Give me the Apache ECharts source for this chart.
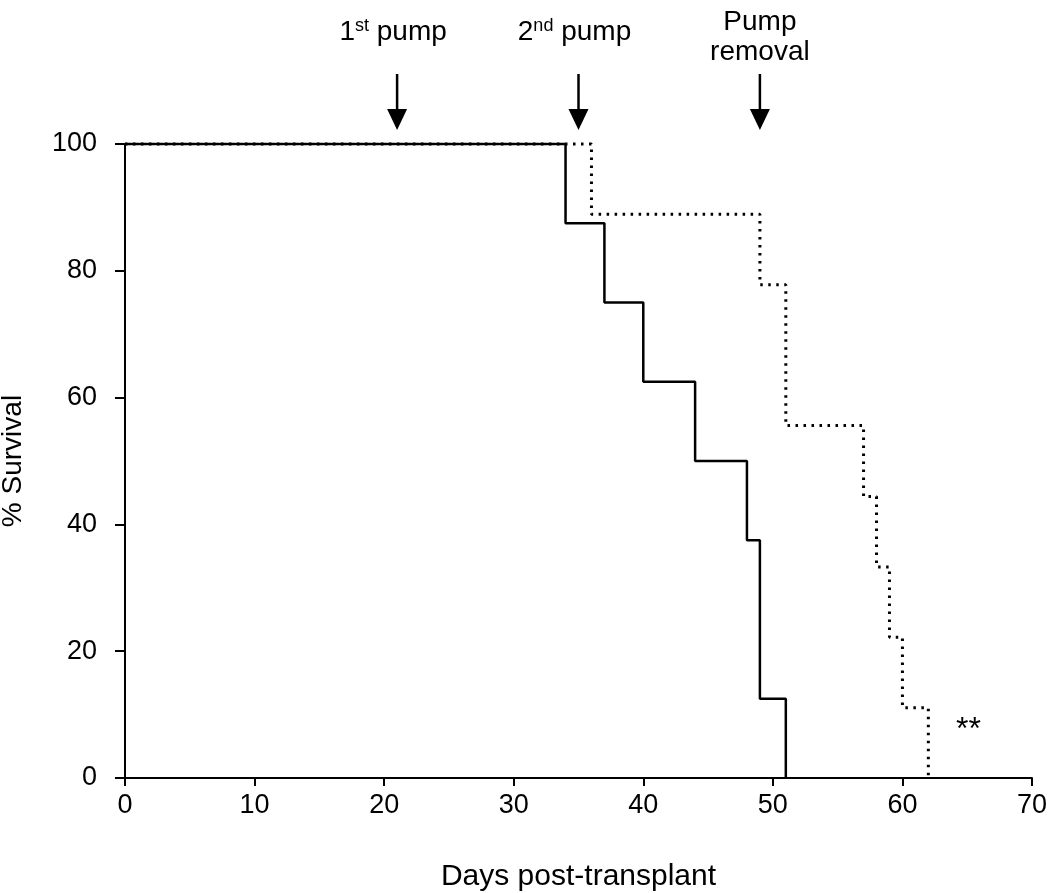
<!DOCTYPE html>
<html>
<head>
<meta charset="utf-8">
<script src="https://cdn.jsdelivr.net/npm/echarts@6/dist/echarts.min.js"></script>
<style>
html,body{margin:0;padding:0;background:#fff;}
#chart{width:1050px;height:893px;}
</style>
</head>
<body>
<div id="chart"></div>
<script>
// Kaplan–Meier survival data (event days and % survival after each event)
const controlDays = [0, 34, 37, 40, 44, 48, 49, 51];
const controlSurvival = [100, 87.5, 75, 62.5, 50, 37.5, 12.5, 0];
const treatedDays = [0, 36, 49, 51, 57, 58, 59, 60, 62];
const treatedSurvival = [100, 88.9, 77.8, 55.6, 44.4, 33.3, 22.2, 11.1, 0];
// Annotation days
const eventDays = [21, 35, 49];
const eventLabels = ['{n|1}{s|st}{n| pump}', '{n|2}{s|nd}{n| pump}', '{n|Pump}\n{n|removal}'];
const significance = { day: 65.1, value: 7.5, text: '**' };
const xTicks = [0, 10, 20, 30, 40, 50, 60, 70];
const yTicks = [0, 20, 40, 60, 80, 100];

const FONT = "'Liberation Sans', Arial, Helvetica, sans-serif";
const chart = echarts.init(document.getElementById('chart'));

function pairs(xs, ys) { return xs.map((x, i) => [x, ys[i]]); }

const axisCommon = {
  axisLine: { show: true, onZero: false, lineStyle: { color: '#000', width: 2 } },
  axisTick: { show: true, inside: false, length: 8, lineStyle: { color: '#000', width: 2 } },
  splitLine: { show: false },
  axisLabel: { color: '#000', fontFamily: FONT, fontSize: 27 }
};

chart.setOption({
  animation: false,
  backgroundColor: '#fff',
  grid: { left: 125, right: 18, top: 144, bottom: 115, containLabel: false, outerBoundsMode: 'none' },
  xAxis: Object.assign({}, axisCommon, {
    type: 'value', min: xTicks[0], max: xTicks[xTicks.length - 1], interval: 10,
    name: 'Days post-transplant', nameLocation: 'middle', nameGap: 84,
    nameTextStyle: { color: '#000', fontFamily: FONT, fontSize: 30 },
    axisLabel: Object.assign({}, axisCommon.axisLabel, { margin: 14 })
  }),
  yAxis: Object.assign({}, axisCommon, {
    type: 'value', min: yTicks[0], max: yTicks[yTicks.length - 1], interval: 20,
    name: '% Survival', nameLocation: 'middle', nameGap: 98, nameRotate: 90,
    nameTextStyle: { color: '#000', fontFamily: FONT, fontSize: 28 },
    axisTick: { show: true, inside: false, length: 10, lineStyle: { color: '#000', width: 2 } },
    axisLabel: Object.assign({}, axisCommon.axisLabel, { margin: 28 })
  }),
  series: [
    {
      type: 'line', step: 'end', showSymbol: false, symbol: 'none', clip: false, z: 2,
      data: pairs(treatedDays, treatedSurvival),
      lineStyle: { color: '#000', width: 3, type: [2.5, 5.5], cap: 'butt' }
    },
    {
      type: 'line', step: 'end', showSymbol: false, symbol: 'none', clip: false, z: 3,
      data: pairs(controlDays, controlSurvival),
      lineStyle: { color: '#000', width: 2.5, type: 'solid' }
    }
  ]
});

// Annotations placed through the chart's own coordinate conversion
const graphics = [];
eventDays.forEach((d, i) => {
  const px = chart.convertToPixel({ gridIndex: 0 }, [d, 100])[0];
  graphics.push({
    type: 'line', shape: { x1: px, y1: 74, x2: px, y2: 112 },
    style: { stroke: '#000', lineWidth: 2.5 }, z: 10
  });
  graphics.push({
    type: 'polygon', shape: { points: [[px - 10, 109], [px + 10, 109], [px, 130]] },
    style: { fill: '#000' }, z: 10
  });
  const twoLine = eventLabels[i].indexOf('\n') >= 0;
  graphics.push({
    type: 'text', x: px - (twoLine ? 0 : 4), y: twoLine ? 37 : 32,
    style: {
      text: eventLabels[i], align: 'center', verticalAlign: 'middle',
      fill: '#000', fontFamily: FONT, fontSize: 28, lineHeight: 30,
      rich: {
        n: { fontFamily: FONT, fontSize: 28, fill: '#000', lineHeight: 30 },
        s: { fontFamily: FONT, fontSize: 18, fill: '#000', verticalAlign: 'top', lineHeight: 30, padding: [0, 0, 12, 0] }
      }
    }, z: 10
  });
});
const sp = chart.convertToPixel({ gridIndex: 0 }, [significance.day, significance.value]);
graphics.push({
  type: 'text', x: sp[0], y: sp[1],
  style: { text: significance.text, align: 'center', verticalAlign: 'middle', fill: '#000', fontFamily: FONT, fontSize: 32 },
  z: 10
});
chart.setOption({ graphic: graphics });
</script>
</body>
</html>
